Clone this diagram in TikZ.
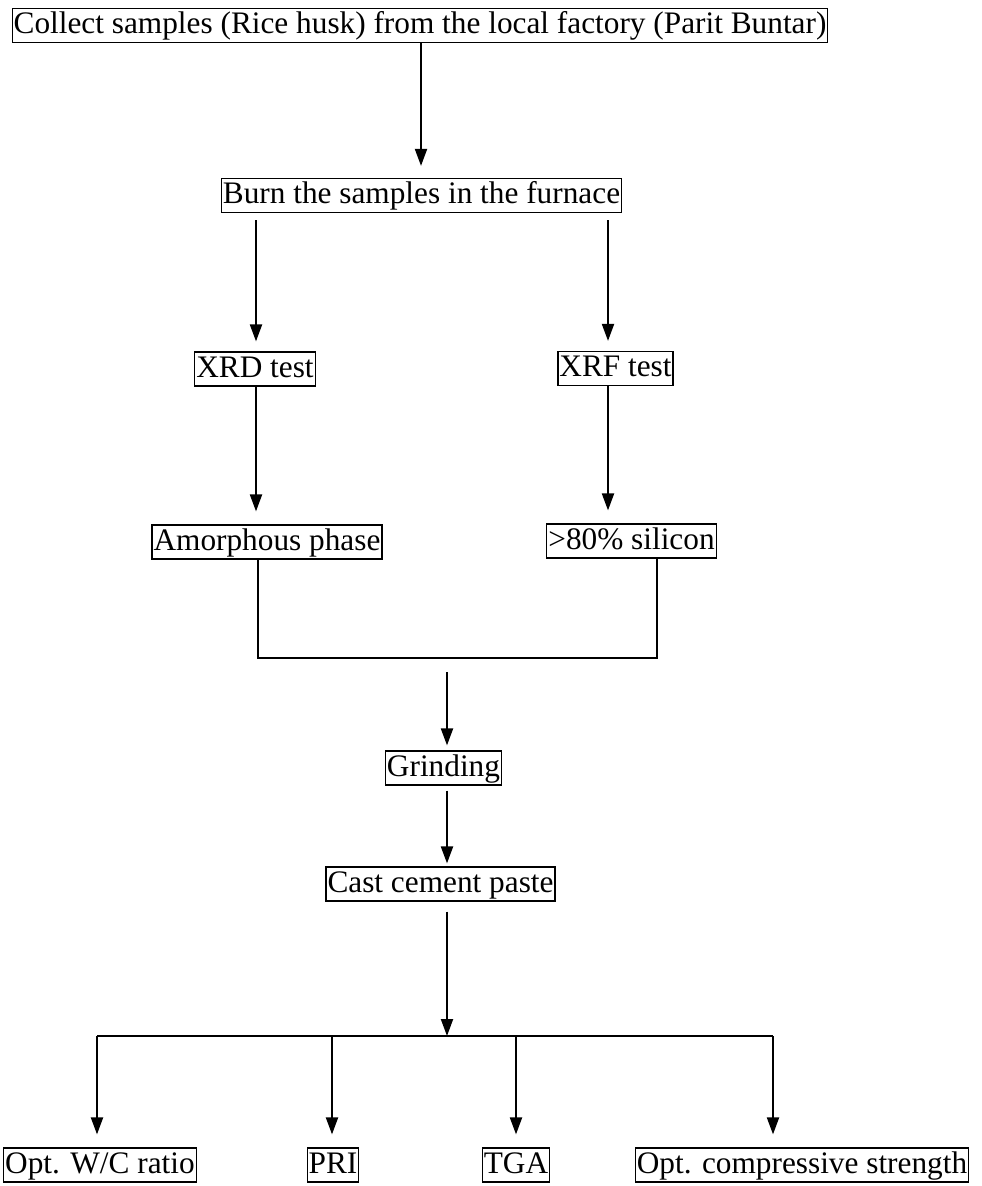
\documentclass[tikz,border=0pt]{standalone}
\usepackage{fontspec}
\setmainfont{Liberation Serif}
\usetikzlibrary{arrows.meta}
\begin{document}
\begin{tikzpicture}[x=1pt,y=-1pt,
  box/.style={draw, line width=1.2pt, inner xsep=1.5pt, inner ysep=2pt, text height=23pt, text depth=7pt, font=\fontsize{31.3pt}{36pt}\selectfont},
  arr/.style={line width=2pt, -{Triangle[length=17pt,width=12pt]}},
  ln/.style={line width=2pt}]
\useasboundingbox (0,0) rectangle (982,1186);

\node[box] (top) at (420,25.5) {Collect samples (Rice husk) from the local factory (Parit Buntar)};
\node[box] (burn) at (421.5,195.5) {Burn the samples in the furnace};
\node[box] (xrd) at (255,369) {XRD test};
\node[box] (xrf) at (615.5,368.5) {XRF test};
\node[box] (amo) at (267,542) {Amorphous phase};
\node[box] (sil) at (631.5,541) {>80\% silicon};
\node[box] (grind) at (443.5,768) {Grinding};
\node[box] (cast) at (440.5,884) {Cast cement paste};
\node[box] (wc) at (100,1165) {Opt. W/C ratio};
\node[box] (pri) at (333,1165) {PRI};
\node[box] (tga) at (516,1165) {TGA};
\node[box] (ocs) at (802,1165) {Opt. compressive strength};

\coordinate (a1) at (421,0);
\coordinate (a2) at (256,0);
\coordinate (a3) at (608,0);
\draw[arr, shorten >=12pt] (top.south -| a1) -- (burn.north -| a1);
\draw[arr, shorten <=7pt, shorten >=10pt] (burn.south -| a2) -- (xrd.north -| a2);
\draw[arr, shorten <=7pt, shorten >=10pt] (burn.south -| a3) -- (xrf.north -| a3);
\draw[arr, shorten >=13pt] (xrd.south -| a2) -- (amo.north -| a2);
\draw[arr, shorten >=13pt] (xrf.south -| a3) -- (sil.north -| a3);

\coordinate (jl) at (258,658);
\coordinate (jr) at (657,658);
\draw[ln] (amo.south -| jl) -- (jl) -- (jr) -- (sil.south -| jr);
\coordinate (jc) at (447,672);
\draw[arr, shorten >=5pt] (jc) -- (grind.north -| jc);
\draw[arr, shorten <=5pt, shorten >=3pt] (grind.south -| jc) -- (cast.north -| jc);

\coordinate (hub) at (447,1036);
\draw[arr, shorten <=10pt] (cast.south -| hub) -- (hub);
\coordinate (h1) at (97,1036);
\coordinate (h2) at (332,1036);
\coordinate (h3) at (516,1036);
\coordinate (h4) at (773,1036);
\draw[ln] (h1) -- (h4);
\draw[arr, shorten >=13pt] (h1) -- (wc.north -| h1);
\draw[arr, shorten >=13pt] (h2) -- (pri.north -| h2);
\draw[arr, shorten >=13pt] (h3) -- (tga.north -| h3);
\draw[arr, shorten >=13pt] (h4) -- (ocs.north -| h4);
\end{tikzpicture}
\end{document}
